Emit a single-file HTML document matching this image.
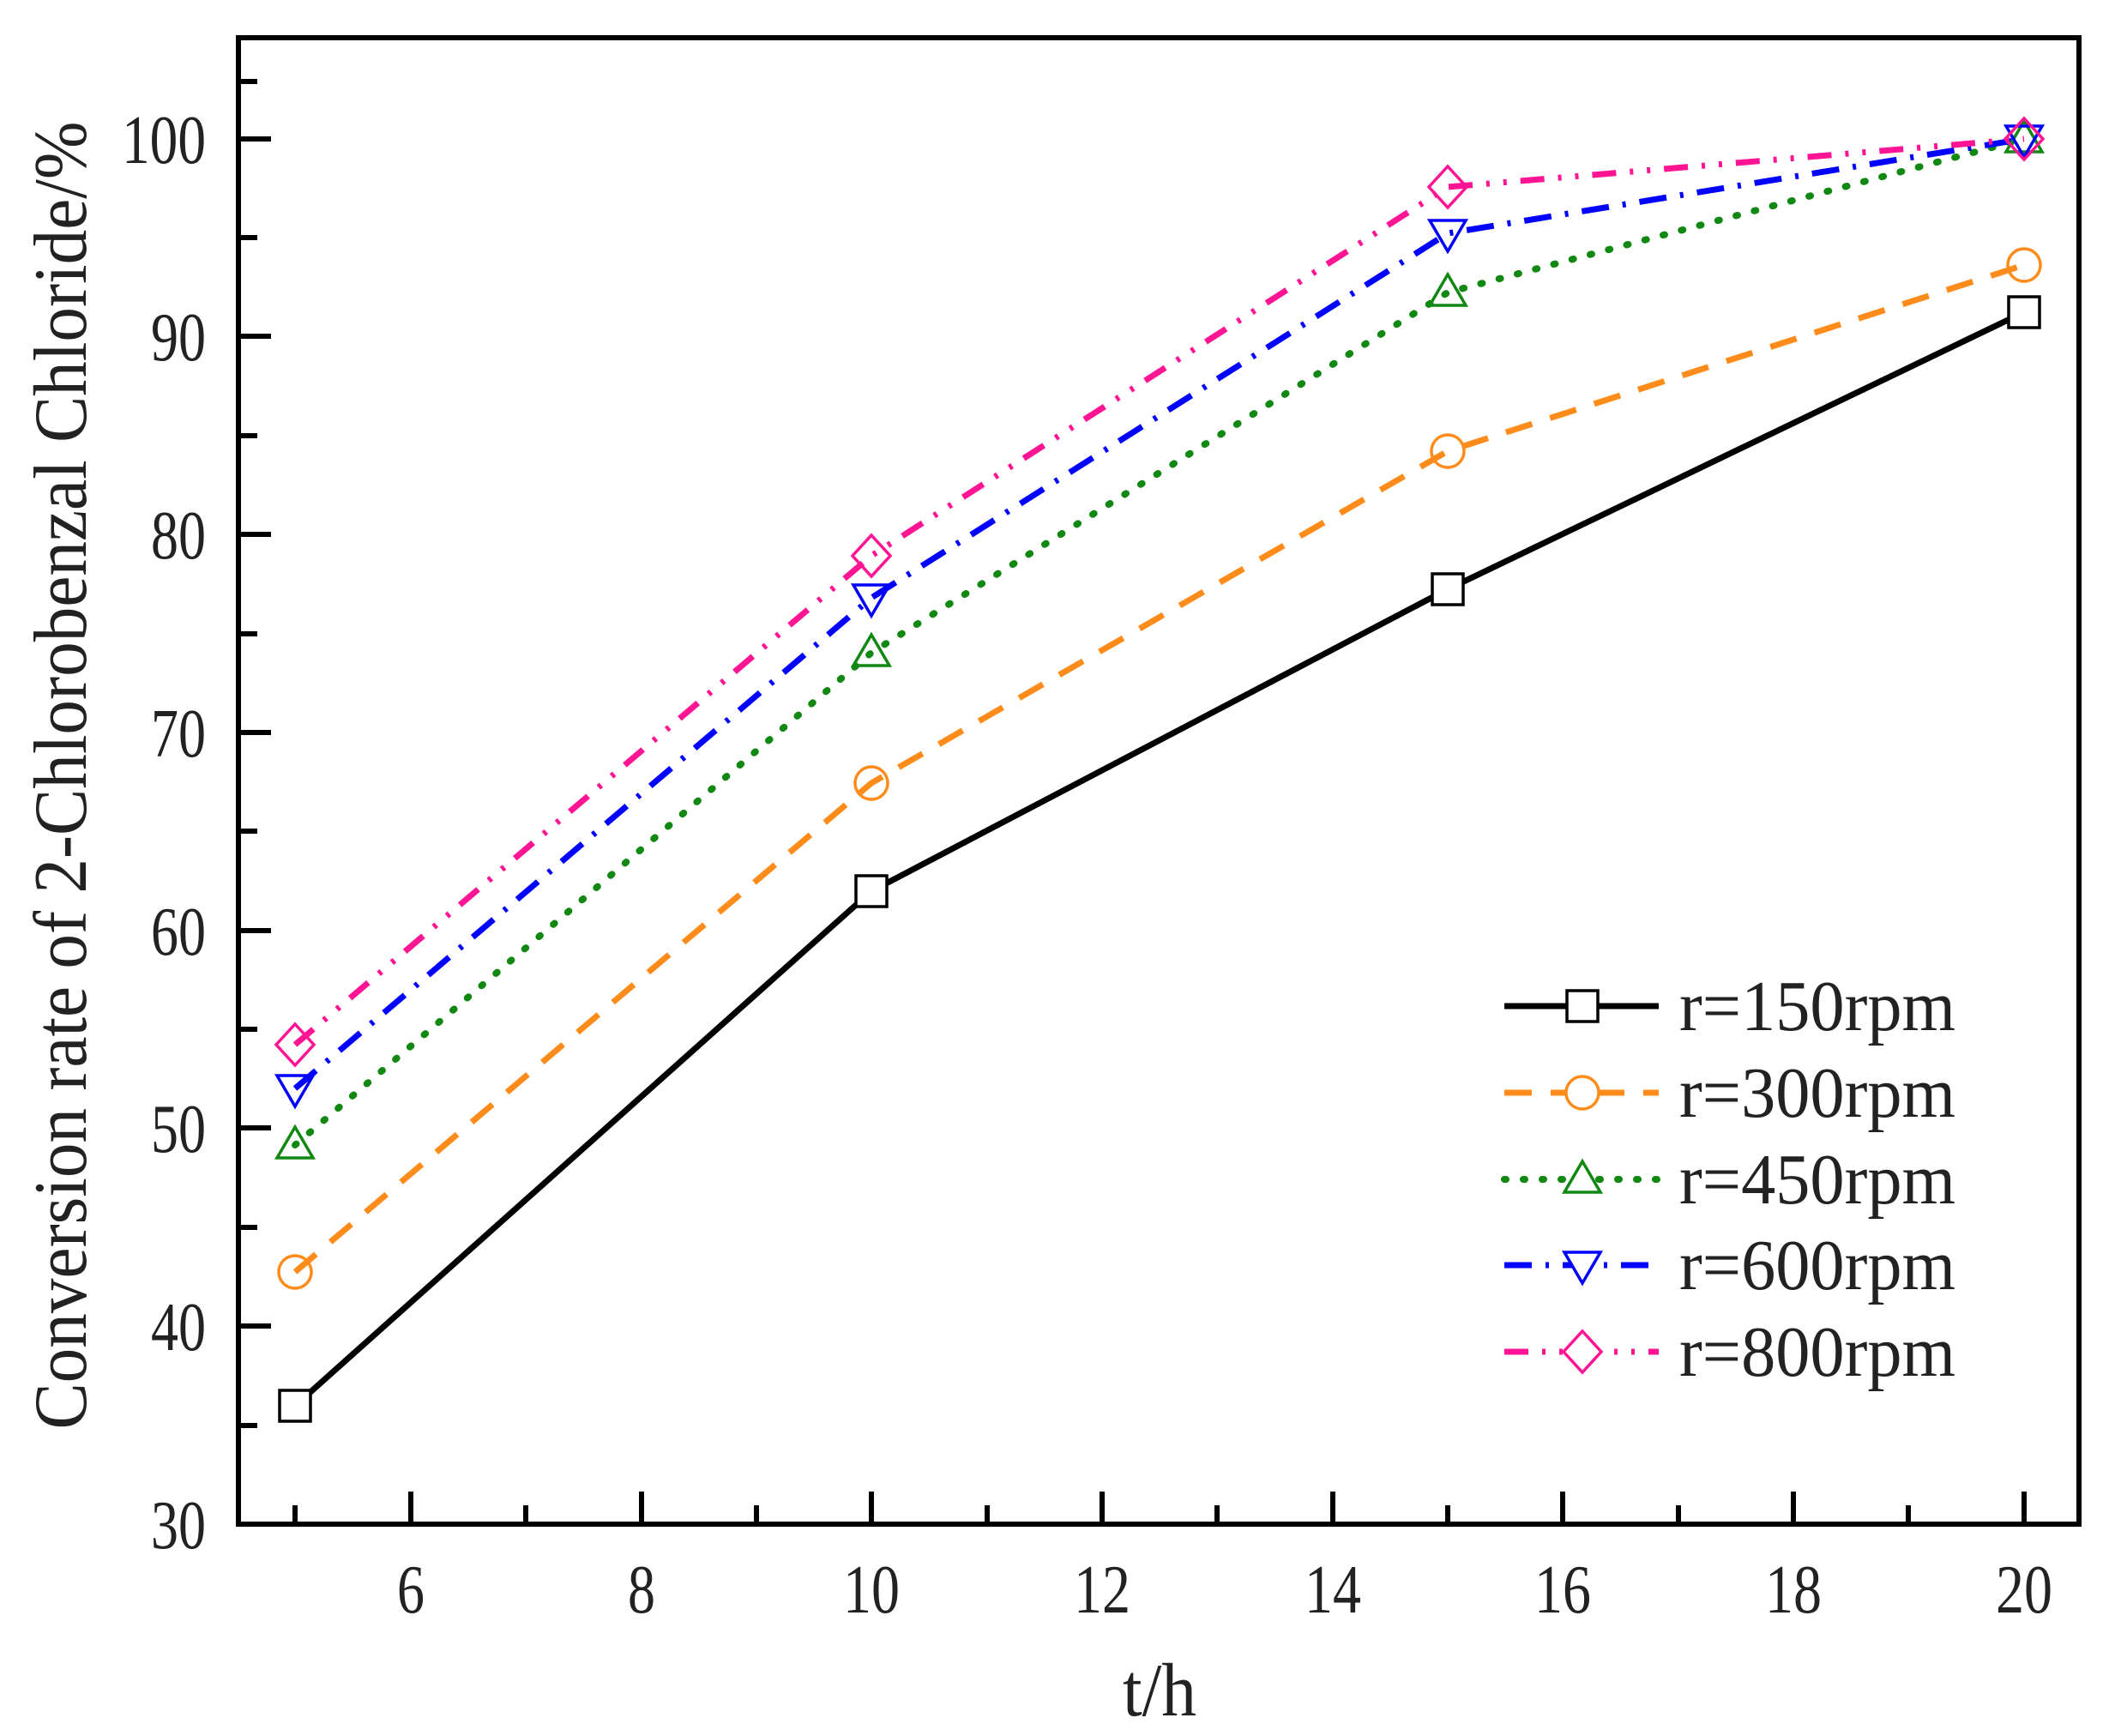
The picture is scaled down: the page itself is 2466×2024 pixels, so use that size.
<!DOCTYPE html>
<html><head><style>body{margin:0;background:#fff}</style></head><body>
<svg width="2466" height="2019" viewBox="0 0 2466 2019" xmlns="http://www.w3.org/2000/svg" font-family="Liberation Serif, serif">
<rect width="2466" height="2019" fill="#fff"/>
<g stroke="#000" stroke-width="6" fill="none">
<rect x="278" y="44" width="2146" height="1733"/>
<path d="M479,1777v-38 M748,1777v-38 M1016,1777v-38 M1285,1777v-38 M1554,1777v-38 M1822,1777v-38 M2091,1777v-38 M2360,1777v-38
M344,1777v-22 M613,1777v-22 M882,1777v-22 M1151,1777v-22 M1419,1777v-22 M1688,1777v-22 M1957,1777v-22 M2225,1777v-22
M278,1546h38 M278,1315h38 M278,1085h38 M278,854h38 M278,623h38 M278,392h38 M278,162h38
M278,1662h22 M278,1431h22 M278,1200h22 M278,969h22 M278,739h22 M278,508h22 M278,277h22 M278,95h22"/>
</g>
<g font-size="80" fill="#222" text-anchor="end" lengthAdjust="spacingAndGlyphs">
<text x="240" y="1805" textLength="64" lengthAdjust="spacingAndGlyphs">30</text><text x="240" y="1574" textLength="64" lengthAdjust="spacingAndGlyphs">40</text><text x="240" y="1343" textLength="64" lengthAdjust="spacingAndGlyphs">50</text><text x="240" y="1113" textLength="64" lengthAdjust="spacingAndGlyphs">60</text><text x="240" y="882" textLength="64" lengthAdjust="spacingAndGlyphs">70</text><text x="240" y="651" textLength="64" lengthAdjust="spacingAndGlyphs">80</text><text x="240" y="420" textLength="64" lengthAdjust="spacingAndGlyphs">90</text><text x="240" y="190" textLength="98" lengthAdjust="spacingAndGlyphs">100</text>
</g>
<g font-size="80" fill="#222" text-anchor="middle">
<text x="479" y="1880" textLength="32" lengthAdjust="spacingAndGlyphs">6</text><text x="748" y="1880" textLength="32" lengthAdjust="spacingAndGlyphs">8</text><text x="1016" y="1880" textLength="66" lengthAdjust="spacingAndGlyphs">10</text><text x="1285" y="1880" textLength="66" lengthAdjust="spacingAndGlyphs">12</text><text x="1554" y="1880" textLength="66" lengthAdjust="spacingAndGlyphs">14</text><text x="1822" y="1880" textLength="66" lengthAdjust="spacingAndGlyphs">16</text><text x="2091" y="1880" textLength="66" lengthAdjust="spacingAndGlyphs">18</text><text x="2360" y="1880" textLength="66" lengthAdjust="spacingAndGlyphs">20</text>
<text x="1352" y="2000" font-size="88" textLength="86" lengthAdjust="spacingAndGlyphs">t/h</text>
<text transform="translate(100,904) rotate(-90)" font-size="88" textLength="1525" lengthAdjust="spacingAndGlyphs">Conversion rate of 2-Chlorobenzal Chloride/%</text>
</g>
<g fill="none" stroke-width="7">
<polyline stroke="#000" points="344,1639 1016,1039 1688,687 2360,364"/>
<polyline stroke="#ff8c1a" stroke-dasharray="32,22" points="344,1483 1016,913 1688,526 2360,309"/>
<polyline stroke="#118811" stroke-dasharray="2,20" stroke-linecap="round" stroke-width="8" points="344,1335 1016,761 1688,341 2360,162"/>
<polyline stroke="#0000ff" stroke-dasharray="32,16,4,16" points="344,1269 1016,697 1688,272 2360,162"/>
<polyline stroke="#ff1493" stroke-dasharray="28,16,4,16,4,16" points="344,1218 1016,648 1688,218 2360,162"/>
</g>
<g fill="#fff" stroke-width="3.5">
<g stroke="#000"><rect x="326" y="1621" width="36" height="36"/><rect x="998" y="1021" width="36" height="36"/><rect x="1670" y="669" width="36" height="36"/><rect x="2342" y="346" width="36" height="36"/></g>
<g stroke="#ff8c1a" fill="none"><circle cx="344" cy="1483" r="19"/><circle cx="1016" cy="913" r="19"/><circle cx="1688" cy="526" r="19"/><circle cx="2360" cy="309" r="19"/></g>
<g stroke="#118811" fill="none"><path d="M344,1314l21,36h-42z M1016,740l21,36h-42z M1688,320l21,36h-42z M2360,141l21,36h-42z"/></g>
<g stroke="#0000ff" fill="none"><path d="M344,1290l21,-36h-42z M1016,718l21,-36h-42z M1688,293l21,-36h-42z M2360,183l21,-36h-42z"/></g>
<g stroke="#ff1493" fill="none"><path d="M344,1194l22,24l-22,24l-22,-24z M1016,624l22,24l-22,24l-22,-24z M1688,194l22,24l-22,24l-22,-24z M2360,138l22,24l-22,24l-22,-24z"/></g>
</g>
<g stroke-width="7" fill="none">
<path stroke="#000" d="M1754,1173h180"/>
<path stroke="#ff8c1a" stroke-dasharray="32,22" d="M1754,1274h180"/>
<path stroke="#118811" stroke-dasharray="2,20" stroke-linecap="round" stroke-width="8" d="M1754,1375h180"/>
<path stroke="#0000ff" stroke-dasharray="32,16,4,16" d="M1754,1475h180"/>
<path stroke="#ff1493" stroke-dasharray="28,16,4,16,4,16" d="M1754,1576h180"/>
</g>
<g stroke-width="3.5" fill="#fff">
<rect x="1827" y="1155" width="36" height="36" stroke="#000"/>
<circle cx="1845" cy="1274" r="19" stroke="#ff8c1a"/>
<path d="M1845,1354l21,36h-42z" stroke="#118811"/>
<path d="M1845,1496l21,-36h-42z" stroke="#0000ff"/>
<path d="M1845,1552l22,24l-22,24l-22,-24z" stroke="#ff1493"/>
</g>
<g font-size="84" fill="#222">
<text x="1958" y="1201" textLength="322" lengthAdjust="spacingAndGlyphs">r=150rpm</text>
<text x="1958" y="1302" textLength="322" lengthAdjust="spacingAndGlyphs">r=300rpm</text>
<text x="1958" y="1403" textLength="322" lengthAdjust="spacingAndGlyphs">r=450rpm</text>
<text x="1958" y="1503" textLength="322" lengthAdjust="spacingAndGlyphs">r=600rpm</text>
<text x="1958" y="1604" textLength="322" lengthAdjust="spacingAndGlyphs">r=800rpm</text>
</g>
</svg>
</body></html>
